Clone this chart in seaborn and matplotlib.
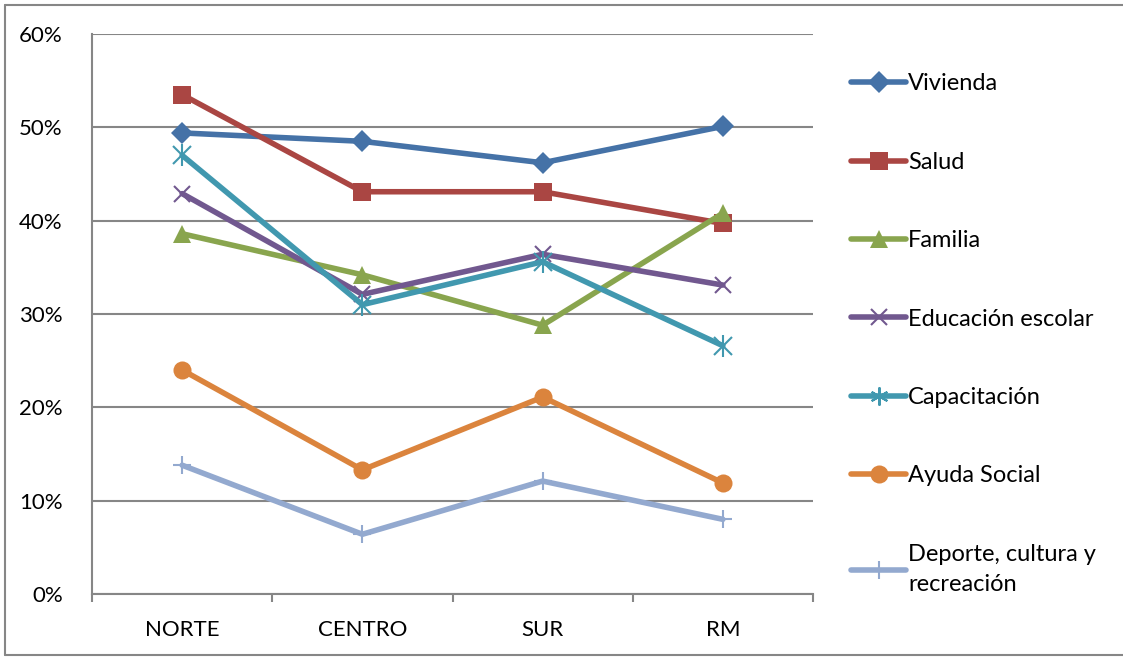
import matplotlib
matplotlib.use("Agg")
import matplotlib.pyplot as plt
import seaborn as sns
import pandas as pd
from matplotlib.lines import Line2D
from matplotlib.ticker import FixedLocator, PercentFormatter

regions = ["NORTE", "CENTRO", "SUR", "RM"]
vivienda = [49.4, 48.5, 46.2, 50.1]
salud = [53.5, 43.1, 43.1, 39.7]
familia = [38.6, 34.2, 28.8, 40.8]
educacion = [42.9, 32.1, 36.4, 33.1]
capacitacion = [47.0, 31.0, 35.6, 26.6]
ayuda_social = [24.0, 13.3, 21.1, 11.9]
deporte = [13.8, 6.4, 12.1, 8.0]

series_names = ["Vivienda", "Salud", "Familia", "Educación escolar",
                "Capacitación", "Ayuda Social", "Deporte, cultura y\nrecreación"]
series_values = [vivienda, salud, familia, educacion, capacitacion, ayuda_social, deporte]
colors = ["#4572A7", "#AA4643", "#89A54E", "#71588F", "#4198AF", "#DB843D", "#93A9CF"]
markers = ["D", "s", "^", "x", "*", "o", "+"]
msizes = [11, 13, 13, 12, 13, 13, 13]

rows = []
for name, vals in zip(series_names, series_values):
    for i, v in enumerate(vals):
        rows.append({"serie": name, "x": i, "valor": v})
df = pd.DataFrame(rows)

sns.set_theme(style="white")
plt.rcParams["font.family"] = ["Lato", "DejaVu Sans"]
FS = 16
LFS = 17

fig = plt.figure(figsize=(11.23, 6.58), dpi=100)
ax = fig.add_axes([92/1123, 1-594/658, (813-92)/1123, (594-34)/658])

for name, col, mk, ms in zip(series_names, colors, markers, msizes):
    sub = df[df["serie"] == name]
    if mk == "*":
        sns.lineplot(data=sub, x="x", y="valor", ax=ax, color=col, lw=4,
                     marker="x", markersize=ms, markeredgewidth=1.5,
                     markeredgecolor=col, zorder=3)
        ax.plot(sub["x"], sub["valor"], ls="none", marker="|", markersize=ms*1.2,
                markeredgewidth=1.5, color=col, zorder=4)
    elif mk in ("x", "+"):
        sns.lineplot(data=sub, x="x", y="valor", ax=ax, color=col, lw=4,
                     marker=mk, markersize=ms, markeredgewidth=1.5,
                     markeredgecolor=col, zorder=3)
    else:
        sns.lineplot(data=sub, x="x", y="valor", ax=ax, color=col, lw=4,
                     marker=mk, markersize=ms, markeredgewidth=0,
                     markerfacecolor=col, zorder=3)

ax.set_xlim(-0.5, 3.5)
ax.set_ylim(0, 60)
ax.set_xticks(range(len(regions)))
ax.set_xticklabels(regions)
ax.xaxis.set_minor_locator(FixedLocator([-0.5, 0.5, 1.5, 2.5, 3.5]))
ax.set_yticks([0, 10, 20, 30, 40, 50, 60])
ax.yaxis.set_major_formatter(PercentFormatter(decimals=0))
ax.set_xlabel("")
ax.set_ylabel("")
ax.grid(axis="y", color="#868686", lw=1.5)
ax.set_axisbelow(True)
for s in ["top", "right"]:
    ax.spines[s].set_visible(False)
for s in ["left", "bottom"]:
    ax.spines[s].set_color("#868686")
    ax.spines[s].set_linewidth(1.5)
ax.tick_params(axis="x", which="major", length=0, pad=19, labelsize=FS, colors="black")
ax.tick_params(axis="x", which="minor", length=6, width=1.5, color="#868686", direction="out", bottom=True)
ax.tick_params(axis="y", which="major", length=9, width=1.5, color="#868686", pad=12, labelsize=FS)
for lab in ax.get_yticklabels() + ax.get_xticklabels():
    lab.set_color("black")
if ax.get_legend():
    ax.get_legend().remove()

# legend
handles = []
for name, col, mk, ms in zip(series_names, colors, markers, msizes):
    if mk == "*":
        h = Line2D([], [], color=col, lw=4, marker=(6, 2, 0), markersize=ms, markeredgewidth=1.5)
    elif mk in ("x", "+"):
        h = Line2D([], [], color=col, lw=4, marker=mk, markersize=ms, markeredgewidth=1.5)
    else:
        h = Line2D([], [], color=col, lw=4, marker=mk, markersize=ms, markeredgewidth=0)
    handles.append(h)
leg = fig.legend(handles, series_names, loc="upper left",
                 bbox_to_anchor=(842/1123, 1-64/658), frameon=False,
                 fontsize=LFS, handlelength=2.3, handletextpad=0.1,
                 labelspacing=2.43, borderaxespad=0)
for t in leg.get_texts():
    t.set_color("black")
    t.set_linespacing(1.55)

# outer border
fig.add_artist(Line2D([5/1123, 5/1123], [1-5/658, 1-655/658], transform=fig.transFigure, color="#868686", lw=1.5))
fig.add_artist(Line2D([5/1123, 1.0], [1-5/658, 1-5/658], transform=fig.transFigure, color="#868686", lw=1.5))
fig.add_artist(Line2D([5/1123, 1.0], [1-655/658, 1-655/658], transform=fig.transFigure, color="#868686", lw=1.5))

fig.savefig("out.png", dpi=100, facecolor="white")
